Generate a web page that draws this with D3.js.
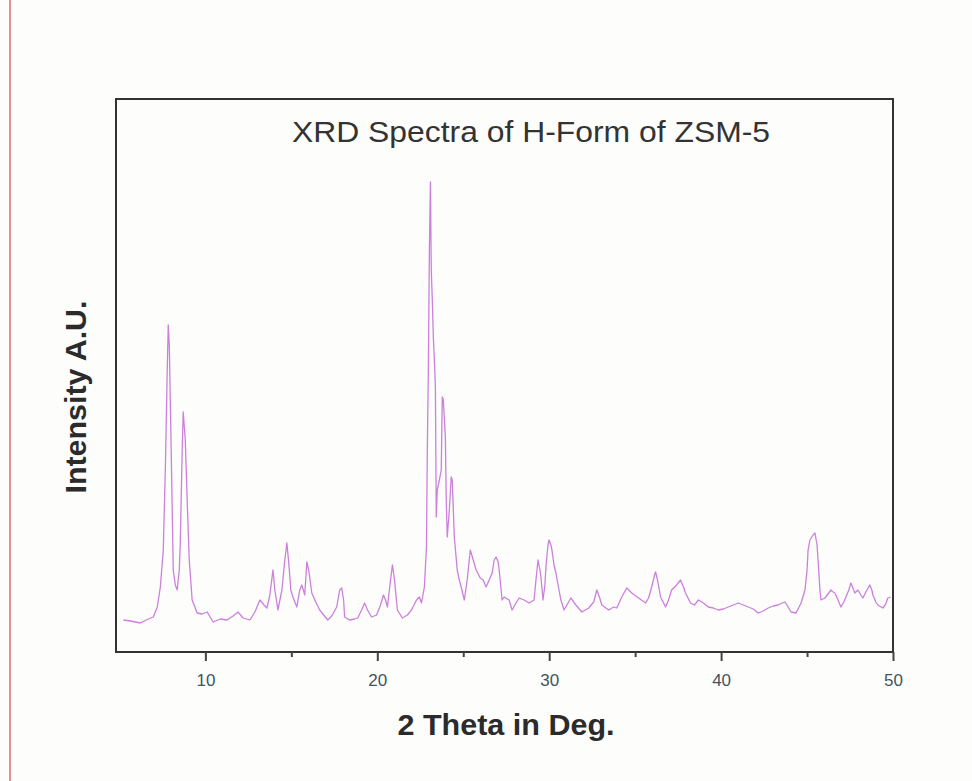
<!DOCTYPE html>
<html>
<head>
<meta charset="utf-8">
<script src="https://cdn.jsdelivr.net/npm/d3@7"></script>
<style>
  html, body { margin: 0; padding: 0; background: #fdfdfb; }
  svg { display: block; }
</style>
</head>
<body>
<svg id="chart" width="972" height="781"></svg>
<script>
// XRD pattern of H-ZSM-5: 2-theta (degrees) and intensity (arbitrary units)
const twoTheta = [
  5.23, 5.64, 6.22, 6.68, 6.97, 7.20, 7.38, 7.55, 7.67, 7.78, 7.84, 7.90, 8.01, 8.13, 8.25, 8.36,
  8.48, 8.54, 8.65, 8.71, 8.83, 8.94, 9.06, 9.23, 9.52, 9.81, 10.10, 10.45, 10.86, 11.26, 11.61, 11.90,
  12.19, 12.59, 12.88, 13.17, 13.41, 13.58, 13.75, 13.93, 14.04, 14.22, 14.45, 14.62, 14.74, 14.86, 14.97, 15.09,
  15.32, 15.49, 15.61, 15.78, 15.90, 16.01, 16.19, 16.42, 16.65, 16.88, 17.12, 17.35, 17.64, 17.81, 17.93, 18.04,
  18.10, 18.39, 18.68, 18.86, 19.09, 19.26, 19.43, 19.67, 19.96, 20.19, 20.36, 20.48, 20.59, 20.77, 20.88, 21.00,
  21.17, 21.46, 21.75, 21.99, 22.28, 22.45, 22.57, 22.74, 22.86, 22.91, 22.97, 23.03, 23.09, 23.14, 23.20, 23.26,
  23.32, 23.38, 23.43, 23.49, 23.61, 23.72, 23.78, 23.84, 23.96, 24.01, 24.07, 24.19, 24.30, 24.36, 24.48, 24.65,
  24.77, 24.88, 25.06, 25.23, 25.41, 25.58, 25.75, 25.99, 26.16, 26.33, 26.51, 26.68, 26.80, 26.91, 27.03, 27.09,
  27.26, 27.38, 27.67, 27.84, 28.07, 28.25, 28.54, 28.83, 29.12, 29.23, 29.35, 29.46, 29.52, 29.64, 29.75, 29.81,
  29.93, 29.99, 30.10, 30.16, 30.28, 30.39, 30.57, 30.68, 30.86, 31.03, 31.26, 31.55, 31.90, 32.30, 32.59, 32.77,
  32.94, 33.06, 33.46, 33.75, 33.93, 34.22, 34.51, 34.80, 35.20, 35.61, 35.78, 35.96, 36.13, 36.19, 36.30, 36.48,
  36.77, 36.94, 37.12, 37.41, 37.64, 37.81, 37.93, 38.22, 38.45, 38.68, 38.97, 39.26, 39.55, 39.84, 40.13, 40.42,
  40.71, 41.00, 41.29, 41.58, 41.87, 42.16, 42.45, 42.74, 43.03, 43.32, 43.55, 43.72, 43.90, 44.07, 44.36, 44.65,
  44.88, 45.00, 45.06, 45.17, 45.35, 45.46, 45.58, 45.64, 45.75, 45.81, 46.04, 46.22, 46.39, 46.51, 46.62, 46.80,
  46.97, 47.14, 47.26, 47.43, 47.55, 47.67, 47.78, 47.96, 48.13, 48.25, 48.42, 48.65, 48.77, 48.83, 49.00, 49.12,
  49.41, 49.58, 49.70, 49.87
];

const intensity = [
  32, 31, 29, 33, 35, 45, 65, 102, 182, 282, 327, 307, 202, 82, 67, 62,
  82, 109, 202, 240, 212, 152, 92, 52, 39, 38, 40, 30, 33, 32, 36, 40,
  34, 32, 40, 52, 47, 44, 57, 82, 62, 42, 62, 92, 109, 87, 62, 55,
  45, 62, 67, 57, 90, 82, 59, 50, 42, 37, 32, 36, 45, 62, 64, 52,
  35, 32, 33, 34, 42, 49, 42, 35, 37, 47, 57, 52, 45, 72, 87, 72,
  42, 34, 37, 42, 52, 55, 49, 65, 105, 202, 282, 402, 470, 382, 352, 315,
  292, 265, 135, 162, 172, 182, 255, 252, 215, 152, 115, 142, 175, 172, 115, 82,
  72, 65, 52, 72, 102, 92, 82, 74, 72, 65, 72, 79, 92, 95, 90, 82,
  52, 55, 52, 42, 49, 54, 52, 49, 52, 72, 92, 82, 75, 52, 67, 85,
  107, 112, 107, 102, 87, 79, 62, 52, 42, 47, 54, 47, 40, 44, 50, 62,
  54, 47, 42, 45, 44, 55, 64, 59, 54, 49, 54, 65, 77, 80, 72, 55,
  45, 52, 62, 67, 72, 65, 59, 49, 47, 52, 49, 45, 44, 42, 43, 45,
  47, 49, 47, 45, 43, 39, 41, 44, 46, 47, 49, 50, 45, 40, 39, 49,
  62, 82, 102, 112, 117, 119, 107, 92, 62, 52, 54, 58, 62, 60, 59, 52,
  45, 50, 55, 62, 69, 64, 59, 62, 57, 54, 60, 67, 62, 57, 50, 47,
  44, 48, 54, 55
];

const majorTicks = [10, 20, 30, 40, 50];
const minorTicks = [15, 25, 35, 45];

const titleText = "XRD Spectra of H-Form of ZSM-5";
const xLabelText = "2 Theta in Deg.";
const yLabelText = "Intensity A.U.";

const svg = d3.select("#chart");

// plot frame
const frame = { left: 116, right: 893, top: 99, bottom: 652 };

const x = d3.scaleLinear().domain([4.8, 50]).range([frame.left, frame.right]);
const y = d3.scaleLinear().domain([0, 553]).range([frame.bottom, frame.top]);

// thin red margin rule down the left edge of the sheet
svg.append("line")
  .attr("x1", 10).attr("x2", 10)
  .attr("y1", 0).attr("y2", 781)
  .attr("stroke", "#e06a6a")
  .attr("stroke-width", 1.5);

// spectrum trace
const points = twoTheta.map((t, i) => [t, intensity[i]]);
const line = d3.line().x(d => x(d[0])).y(d => y(d[1]));

svg.append("path")
  .datum(points)
  .attr("d", line)
  .attr("fill", "none")
  .attr("stroke", "#cc80dc")
  .attr("stroke-width", 1.3)
  .attr("stroke-linejoin", "round");

// frame box
svg.append("rect")
  .attr("x", frame.left).attr("y", frame.top)
  .attr("width", frame.right - frame.left)
  .attr("height", frame.bottom - frame.top)
  .attr("fill", "none")
  .attr("stroke", "#333")
  .attr("stroke-width", 2);

// bottom axis: major ticks with labels, minor ticks without
const axisMajor = d3.axisBottom(x)
  .tickValues(majorTicks)
  .tickSize(9)
  .tickPadding(13)
  .tickFormat(d3.format("d"));

const gMajor = svg.append("g")
  .attr("transform", `translate(0,${frame.bottom})`)
  .call(axisMajor);
gMajor.select(".domain").remove();
gMajor.selectAll(".tick line").attr("stroke", "#444").attr("stroke-width", 2);
gMajor.selectAll(".tick text")
  .attr("font-family", "Liberation Sans, Arial, sans-serif")
  .attr("font-size", 17)
  .attr("fill", "#3f5560");

const axisMinor = d3.axisBottom(x)
  .tickValues(minorTicks)
  .tickSize(5)
  .tickFormat("");

const gMinor = svg.append("g")
  .attr("transform", `translate(0,${frame.bottom})`)
  .call(axisMinor);
gMinor.select(".domain").remove();
gMinor.selectAll(".tick line").attr("stroke", "#444").attr("stroke-width", 2);

// title inside the frame
svg.append("text")
  .attr("x", 531).attr("y", 142)
  .attr("text-anchor", "middle")
  .attr("font-family", "Liberation Sans, Arial, sans-serif")
  .attr("font-size", 30)
  .attr("fill", "#333")
  .attr("textLength", 478)
  .attr("lengthAdjust", "spacingAndGlyphs")
  .text(titleText);

// x axis label
svg.append("text")
  .attr("x", 506).attr("y", 735)
  .attr("text-anchor", "middle")
  .attr("font-family", "Liberation Sans, Arial, sans-serif")
  .attr("font-size", 29)
  .attr("font-weight", "bold")
  .attr("fill", "#2b2b2b")
  .attr("textLength", 217)
  .attr("lengthAdjust", "spacingAndGlyphs")
  .text(xLabelText);

// y axis label
svg.append("text")
  .attr("transform", "translate(86,397) rotate(-90)")
  .attr("text-anchor", "middle")
  .attr("font-family", "Liberation Sans, Arial, sans-serif")
  .attr("font-size", 29)
  .attr("font-weight", "bold")
  .attr("fill", "#2b2b2b")
  .attr("textLength", 193)
  .attr("lengthAdjust", "spacingAndGlyphs")
  .text(yLabelText);
</script>
</body>
</html>
